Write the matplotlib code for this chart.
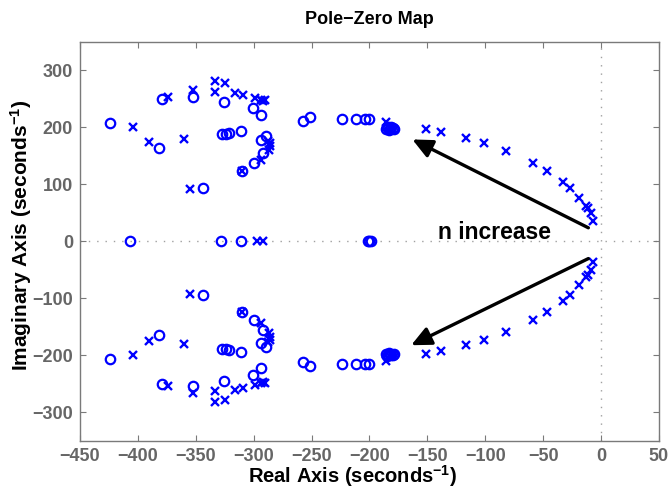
import numpy as np
import matplotlib
matplotlib.use("Agg")
import matplotlib.pyplot as plt

plt.rcParams['font.family'] = ['Liberation Sans', 'DejaVu Sans']
plt.rcParams['font.weight'] = 'bold'
plt.rcParams['mathtext.fontset'] = 'custom'
plt.rcParams['mathtext.rm'] = 'Liberation Sans:bold'
plt.rcParams['mathtext.it'] = 'Liberation Sans:bold'
plt.rcParams['mathtext.bf'] = 'Liberation Sans:bold'

# Complex zeros (upper half-plane; lower half are the conjugates)
zero_re = [-424, -382, -344, -379, -352, -326, -301, -294, -327, -324, -321,
           -311, -289, -294, -292, -300, -310, -257, -251, -224, -212, -204,
           -200, -186, -184, -182, -180, -185, -183, -181, -179]
zero_im = [207, 164, 94, 250, 253, 245, 234, 222, 189, 189, 191,
           194, 185, 178, 156, 137, 124, 212, 218, 215, 215, 215,
           215, 198, 200, 197, 199, 201, 196, 200, 198]
# Real zeros
zero_real = [-407, -328, -311, -201, -200, -199]

# Complex poles (upper half-plane)
pole_re = [-404, -390, -360, -355, -374, -352, -333, -325, -333, -316, -309,
           -299, -294, -292, -290, -286, -286, -287, -288, -294, -310, -186,
           -151, -138, -117, -101, -82, -59, -47, -33, -27, -19, -13, -11, -9, -7]
pole_im = [200, 174, 179, 92, 254, 265, 282, 278, 263, 260, 257,
           251, 248, 246, 249, 172, 167, 161, 176, 143, 124, 209,
           197, 192, 181, 172, 159, 138, 124, 105, 94, 77, 62, 58, 50, 36]
# Real poles
pole_real = [-297, -292]

x_ticks = list(range(-450, 51, 50))
y_ticks = list(range(-300, 301, 100))

zr = np.concatenate([zero_re, zero_re, zero_real])
zi = np.concatenate([zero_im, -np.array(zero_im), np.zeros(len(zero_real))])
pr = np.concatenate([pole_re, pole_re, pole_real])
pi = np.concatenate([pole_im, -np.array(pole_im), np.zeros(len(pole_real))])

fig = plt.figure(figsize=(6.71, 4.92), dpi=100)
ax = fig.add_axes([0.1192, 0.1037, 0.8629, 0.8110])

gray = '#7a7a7a'
ax.axhline(0, color='#a0a0a0', lw=1.0, ls=(0, (1, 5)), zorder=1)
ax.axvline(0, color='#a0a0a0', lw=1.0, ls=(0, (1, 5)), zorder=1)

ax.plot(zr, zi, linestyle='none', marker='o', markersize=6.8,
        markerfacecolor='none', markeredgecolor='#0000ff', markeredgewidth=1.6, zorder=3)
ax.plot(pr, pi, linestyle='none', marker='x', markersize=6,
        markeredgecolor='#0000ff', markeredgewidth=1.7, zorder=3)

arrow_style = dict(arrowstyle='-|>,head_length=0.6,head_width=0.28', color='black',
                   lw=2.4, shrinkA=0, shrinkB=0, mutation_scale=20)
ax.annotate('', xy=(-163, 179), xytext=(-11, 24), arrowprops=arrow_style, zorder=4)
ax.annotate('', xy=(-164, -182), xytext=(-11, -30), arrowprops=arrow_style, zorder=4)
ax.text(-92, 15, 'n increase', fontsize=16.5, fontweight='bold', color='black',
        ha='center', va='center', zorder=5)

ax.set_xlim(-450, 50)
ax.set_ylim(-350, 350)
ax.set_xticks(x_ticks)
ax.set_yticks(y_ticks)
ax.set_xticklabels([str(v).replace('-', '\u2212') for v in x_ticks])
ax.set_yticklabels([str(v).replace('-', '\u2212') for v in y_ticks])
ax.tick_params(direction='in', length=4, width=0.8, color=gray, labelcolor='#666666',
               labelsize=13, top=True, right=True, pad=5)
for lab in ax.get_xticklabels() + ax.get_yticklabels():
    lab.set_fontweight('bold')
for sp in ax.spines.values():
    sp.set_color(gray)
    sp.set_linewidth(1.0)

ax.set_title('Pole\u2212Zero Map', fontsize=13, fontweight='bold', pad=13)
ax.set_xlabel('Real Axis (seconds$^{\u22121}$)', fontsize=14.5, fontweight='bold')
ax.xaxis.set_label_coords(0.47, -0.056)
ax.set_ylabel('Imaginary Axis (seconds$^{\u22121}$)', fontsize=15, fontweight='bold')
ax.yaxis.set_label_coords(-0.08, 0.515)

fig.savefig('out.png', dpi=100)
